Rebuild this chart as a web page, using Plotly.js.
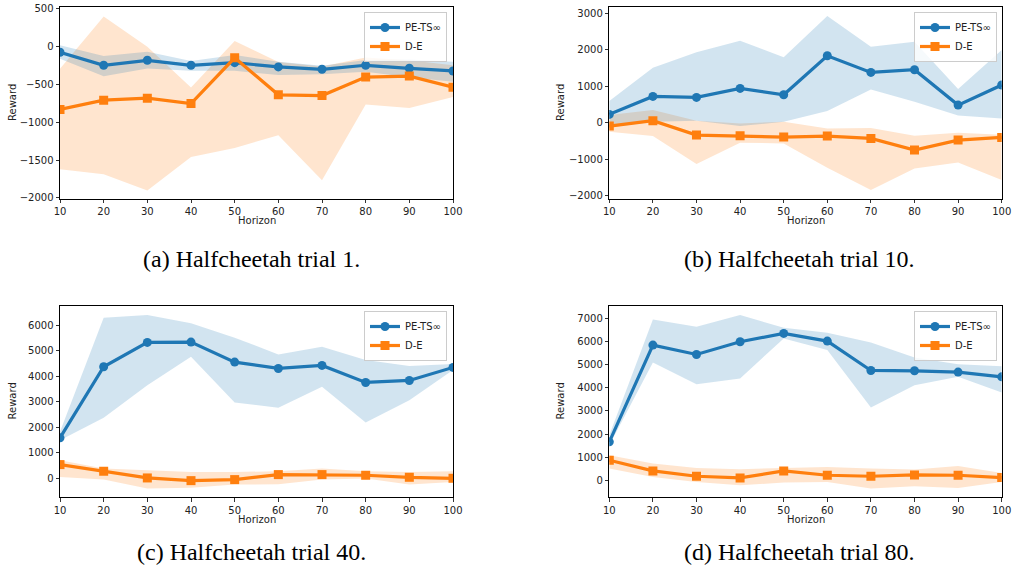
<!DOCTYPE html>
<html>
<head>
<meta charset="utf-8">
<script src="https://cdn.plot.ly/plotly-3.0.1.min.js"></script>
<style>body{margin:0;background:#fff}#c{width:1015px;height:567px}</style>
</head>
<body>
<div id="c"></div>
<script>
const horizons = [10, 20, 30, 40, 50, 60, 70, 80, 90, 100];
const seriesNames = ["PE-TS∞", "D-E"];
const captions = ["(a) Halfcheetah trial 1.", "(b) Halfcheetah trial 10.", "(c) Halfcheetah trial 40.", "(d) Halfcheetah trial 80."];
const xTitle = "Horizon";
const yTitle = "Reward";

// Panel (a) trial 1
const a_pets = [-73, -245, -179, -245, -210, -267, -298, -245, -285, -320];
const a_pets_hi = [20, -123, -66, -190, -110, -199, -252, -176, -167, -199];
const a_pets_lo = [-160, -389, -287, -318, -318, -375, -363, -332, -405, -464];
const a_de = [-830, -707, -680, -751, -146, -636, -645, -401, -388, -534];
const a_de_hi = [-290, 400, 0, -539, 76, -200, -260, -141, -180, -243];
const a_de_lo = [-1622, -1688, -1900, -1459, -1339, -1171, -1766, -764, -809, -663];

// Panel (b) trial 10
const b_pets = [229, 722, 695, 941, 768, 1837, 1380, 1453, 484, 1033];
const b_pets_hi = [594, 1508, 1929, 2249, 1792, 2925, 2084, 2221, 923, 1993];
const b_pets_lo = [-130, 30, 55, -91, 27, 320, 914, 576, 201, 119];
const b_de = [-91, 55, -338, -356, -393, -366, -430, -750, -475, -402];
const b_de_hi = [210, 347, 55, -18, 27, -155, -146, -356, -274, -329];
const b_de_lo = [-247, -366, -1133, -548, -567, -1234, -1846, -1252, -1088, -1572];

// Panel (c) trial 40
const c_pets = [1582, 4366, 5320, 5333, 4549, 4300, 4418, 3752, 3830, 4340];
const c_pets_hi = [1817, 6288, 6392, 6065, 5503, 4850, 5150, 4627, 4392, 4470];
const c_pets_lo = [1490, 2366, 3647, 4758, 2967, 2758, 3582, 2183, 3059, 4235];
const c_de = [536, 275, 13, -92, -52, 144, 144, 118, 39, 0];
const c_de_hi = [706, 379, 314, 248, 248, 275, 379, 275, 248, 275];
const c_de_lo = [52, -52, -405, -366, -248, -235, -52, -13, -248, -144];

// Panel (d) trial 80
const d_pets = [1667, 5833, 5431, 5977, 6336, 6006, 4741, 4727, 4670, 4468];
const d_pets_hi = [1954, 6940, 6624, 7126, 6580, 6365, 5948, 5302, 5014, 4928];
const d_pets_lo = [1523, 5086, 4152, 4397, 6121, 5618, 3147, 4109, 4468, 3793];
const d_de = [876, 417, 187, 115, 417, 230, 187, 244, 230, 129];
const d_de_hi = [1092, 733, 546, 489, 546, 589, 517, 474, 632, 330];
const d_de_lo = [517, 158, -57, -201, -86, -57, -345, -244, -316, -57];

const panels = [
  {pets: a_pets, petsHi: a_pets_hi, petsLo: a_pets_lo, de: a_de, deHi: a_de_hi, deLo: a_de_lo},
  {pets: b_pets, petsHi: b_pets_hi, petsLo: b_pets_lo, de: b_de, deHi: b_de_hi, deLo: b_de_lo},
  {pets: c_pets, petsHi: c_pets_hi, petsLo: c_pets_lo, de: c_de, deHi: c_de_hi, deLo: c_de_lo},
  {pets: d_pets, petsHi: d_pets_hi, petsLo: d_pets_lo, de: d_de, deHi: d_de_hi, deLo: d_de_lo}
];

const W = 1015, H = 567;
const BLUE = "#1f77b4", ORANGE = "#ff7f0e";
const BLUE_F = "rgba(31,119,180,0.2)", ORANGE_F = "rgba(255,127,14,0.2)";

// layout geometry (pixels)
const xDom = [[60, 453], [609.3, 1001.7], [60, 453], [609.3, 1001.7]];
const yDom = [[7.3, 198.7], [7.3, 198.7], [306, 497], [306, 497]];
const yRanges = [[-2010, 522], [-2082, 3164], [-733, 6745], [-707, 7517]];
const yDticks = [500, 1000, 1000, 1000];
const xTitleY = [221, 221, 519.5, 519.5];
const yTitleX = [12, 560, 12, 560];
const capPos = [[251, 259], [799, 259], [251, 552], [799, 552]];

const traces = [];
const layout = {
  width: W, height: H,
  margin: {l: 0, r: 0, t: 0, b: 0},
  paper_bgcolor: "#fff", plot_bgcolor: "#fff",
  showlegend: true,
  font: {family: "DejaVu Sans", color: "#000", size: 10},
  annotations: []
};

panels.forEach((p, i) => {
  const n = i + 1;
  const xa = n === 1 ? "x" : "x" + n;
  const ya = n === 1 ? "y" : "y" + n;
  const lg = n === 1 ? "legend" : "legend" + n;
  const xRev = horizons.slice().reverse();
  traces.push({
    x: horizons.concat(xRev), y: p.deHi.concat(p.deLo.slice().reverse()),
    xaxis: xa, yaxis: ya, type: "scatter", mode: "lines", fill: "toself",
    fillcolor: ORANGE_F, line: {width: 0, color: ORANGE_F}, showlegend: false, hoverinfo: "skip"
  });
  traces.push({
    x: horizons.concat(xRev), y: p.petsHi.concat(p.petsLo.slice().reverse()),
    xaxis: xa, yaxis: ya, type: "scatter", mode: "lines", fill: "toself",
    fillcolor: BLUE_F, line: {width: 0, color: BLUE_F}, showlegend: false, hoverinfo: "skip"
  });
  traces.push({
    x: horizons, y: p.pets, name: seriesNames[0], xaxis: xa, yaxis: ya, legend: lg,
    type: "scatter", mode: "lines+markers",
    line: {color: BLUE, width: 3.2}, marker: {symbol: "circle", size: 9, color: BLUE}
  });
  traces.push({
    x: horizons, y: p.de, name: seriesNames[1], xaxis: xa, yaxis: ya, legend: lg,
    type: "scatter", mode: "lines+markers",
    line: {color: ORANGE, width: 3.2}, marker: {symbol: "square", size: 9, color: ORANGE}
  });

  const axCommon = {
    showline: true, linecolor: "#000", linewidth: 1, mirror: true,
    ticks: "outside", ticklen: 3.5, tickwidth: 0.8, tickcolor: "#000",
    showgrid: false, zeroline: false,
    tickfont: {family: "DejaVu Sans", size: 10, color: "#222"}
  };
  layout[n === 1 ? "xaxis" : "xaxis" + n] = Object.assign({}, axCommon, {
    domain: [xDom[i][0] / W, xDom[i][1] / W], anchor: ya,
    range: [10, 100], tickmode: "array", tickvals: horizons
  });
  layout[n === 1 ? "yaxis" : "yaxis" + n] = Object.assign({}, axCommon, {
    domain: [1 - yDom[i][1] / H, 1 - yDom[i][0] / H], anchor: xa,
    range: yRanges[i], dtick: yDticks[i], tick0: 0
  });
  // axis titles
  layout.annotations.push({
    text: xTitle, xref: "paper", yref: "paper",
    x: (xDom[i][0] + xDom[i][1]) / 2 / W, y: 1 - xTitleY[i] / H,
    xanchor: "center", yanchor: "middle", showarrow: false,
    font: {family: "DejaVu Sans", size: 10, color: "#222"}
  });
  layout.annotations.push({
    text: yTitle, xref: "paper", yref: "paper", textangle: -90,
    x: yTitleX[i] / W, y: 1 - (yDom[i][0] + yDom[i][1]) / 2 / H,
    xanchor: "center", yanchor: "middle", showarrow: false,
    font: {family: "DejaVu Sans", size: 10, color: "#222"}
  });
  const legRight = (i % 2 === 0 ? 447 : 997) / W;
  const legTop = 1 - (i < 2 ? 12 : 311) / H;
  layout[lg] = {
    x: legRight, y: legTop, xanchor: "right", yanchor: "top",
    bgcolor: "rgba(255,255,255,0.8)", bordercolor: "#ccc", borderwidth: 1,
    font: {family: "DejaVu Sans", size: 10, color: "#222"},
    tracegroupgap: 0, itemwidth: 30
  };
  layout.annotations.push({
    text: captions[i], xref: "paper", yref: "paper",
    x: capPos[i][0] / W, y: 1 - capPos[i][1] / H,
    xanchor: "center", yanchor: "middle", showarrow: false,
    font: {family: "Liberation Serif", size: 24, color: "#000"}
  });
});

Plotly.newPlot("c", traces, layout, {displayModeBar: false, staticPlot: true});
</script>
</body>
</html>
